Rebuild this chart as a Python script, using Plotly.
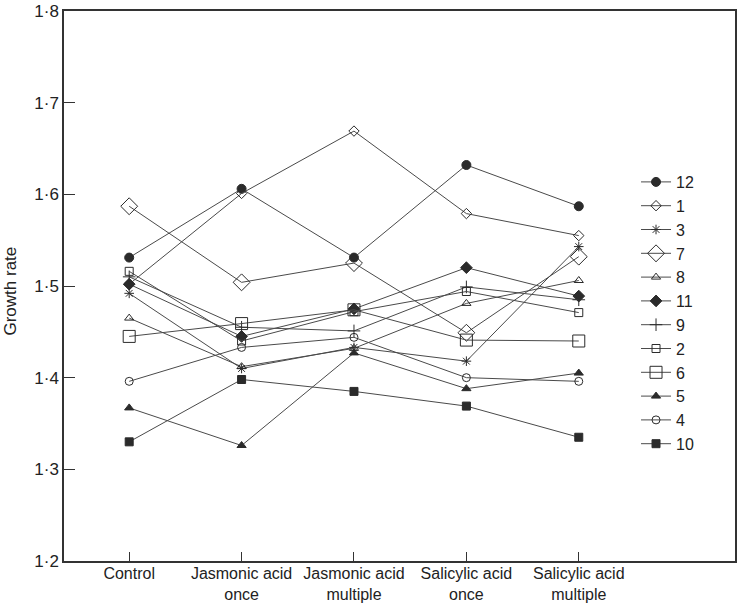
import plotly.graph_objects as go

categories = ["Control", "Jasmonic acid<br>once", "Jasmonic acid<br>multiple",
              "Salicylic acid<br>once", "Salicylic acid<br>multiple"]

s12 = [1.531, 1.606, 1.531, 1.632, 1.587]
s1 = [1.502, 1.601, 1.669, 1.579, 1.555]
s3 = [1.492, 1.410, 1.433, 1.418, 1.543]
s7 = [1.587, 1.504, 1.525, 1.449, 1.532]
s8 = [1.465, 1.412, 1.432, 1.481, 1.506]
s11 = [1.502, 1.445, 1.475, 1.520, 1.489]
s9 = [1.510, 1.455, 1.451, 1.499, 1.485]
s2 = [1.516, 1.440, 1.472, 1.494, 1.471]
s6 = [1.445, 1.459, 1.474, 1.441, 1.440]
s5 = [1.367, 1.326, 1.427, 1.388, 1.405]
s4 = [1.396, 1.433, 1.444, 1.400, 1.396]
s10 = [1.330, 1.398, 1.385, 1.369, 1.335]

y_ticks = [1.2, 1.3, 1.4, 1.5, 1.6, 1.7, 1.8]
y_tick_labels = ["1·2", "1·3", "1·4", "1·5", "1·6", "1·7", "1·8"]

INK = "#2b2b2b"

series = [
    ("12", s12, "circle", 9),
    ("1", s1, "diamond-open", 8),
    ("3", s3, "asterisk-open", 8),
    ("7", s7, "diamond-open", 13),
    ("8", s8, "triangle-up-open", 8),
    ("11", s11, "diamond", 9),
    ("9", s9, "cross-thin-open", 9),
    ("2", s2, "square-open", 8),
    ("6", s6, "square-open", 12),
    ("5", s5, "triangle-up", 8),
    ("4", s4, "circle-open", 8),
    ("10", s10, "square", 8),
]

fig = go.Figure()
for name, vals, sym, size in series:
    fig.add_trace(go.Scatter(
        x=categories, y=vals, name=name, mode="lines+markers",
        line=dict(color="#4a4a4a", width=1),
        marker=dict(symbol=sym, size=size, color=INK,
                    line=dict(color=INK, width=1)),
    ))

fig.update_layout(
    width=737, height=606,
    margin=dict(l=64, r=2, t=11, b=45),
    paper_bgcolor="white", plot_bgcolor="white",
    font=dict(family="Liberation Sans, Arial, sans-serif", size=16, color="#222222"),
    showlegend=True,
    legend=dict(x=0.8525, y=0.72, xanchor="left", yanchor="top",
                bgcolor="rgba(0,0,0,0)", font=dict(size=16),
                tracegroupgap=0),
    annotations=[dict(text="Growth rate", xref="paper", yref="paper",
                      x=-0.0804, y=0.49, textangle=-90, showarrow=False,
                      font=dict(size=17), xanchor="center", yanchor="middle")],
)

fig.update_xaxes(
    type="category", range=[-0.58, 5.39], automargin=False,
    showline=True, linecolor="#333333", linewidth=1.5, mirror=True,
    ticks="inside", ticklen=9, tickcolor="#333333", tickwidth=1.2,
    showgrid=False, zeroline=False, tickfont=dict(size=16),
    ticklabelstandoff=-3,
)
fig.update_yaxes(
    range=[1.2, 1.8], tickvals=y_ticks, ticktext=y_tick_labels, automargin=False,
    showline=True, linecolor="#333333", linewidth=1.5, mirror=True,
    ticks="inside", ticklen=11, tickcolor="#333333", tickwidth=1.2,
    showgrid=False, zeroline=False, tickfont=dict(size=17),
)

fig.write_html("out.html", config={"displayModeBar": False},
               post_script="document.body.style.margin='0px';")
